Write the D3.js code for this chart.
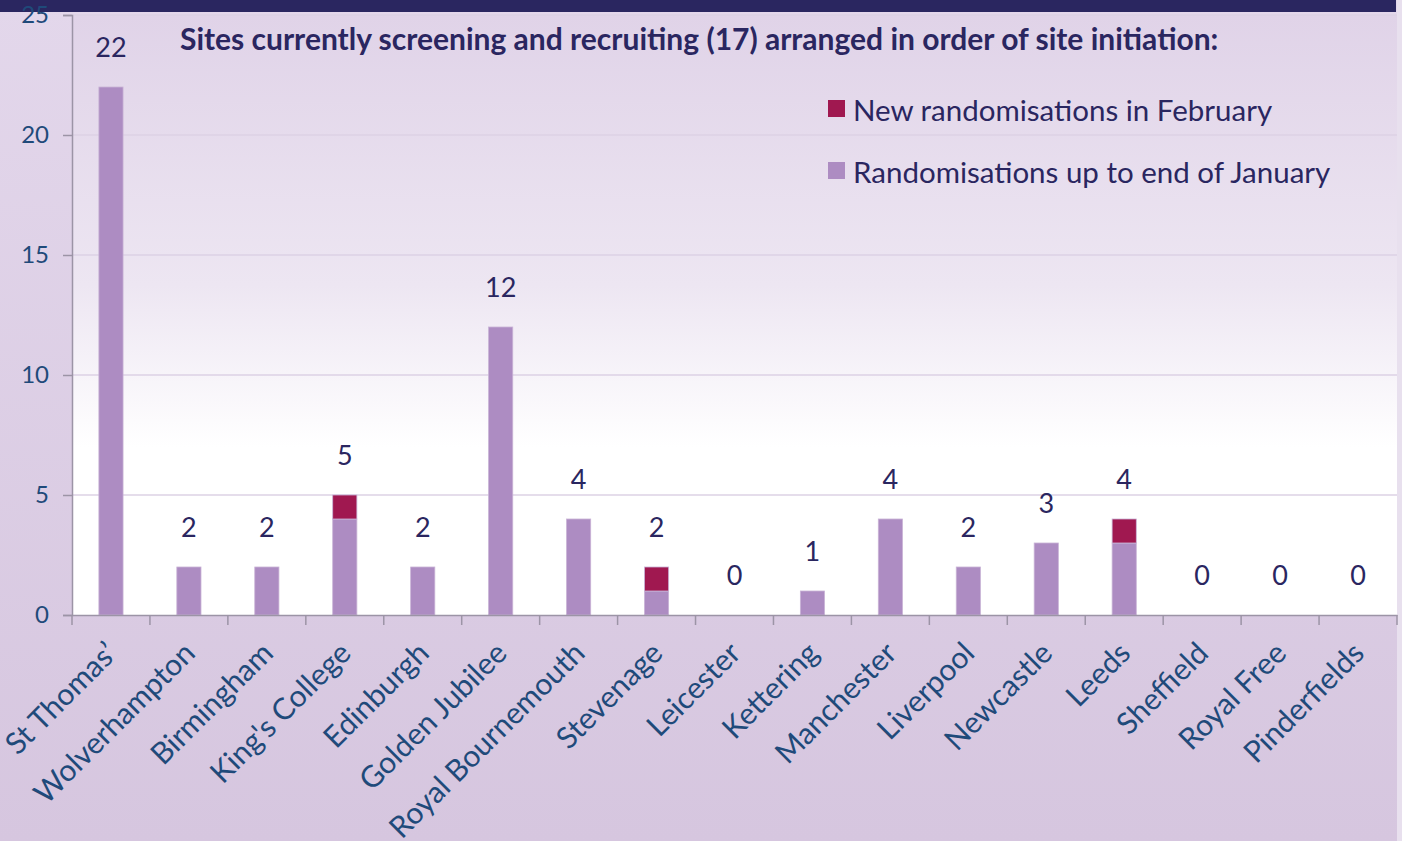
<!DOCTYPE html>
<html>
<head>
<meta charset="utf-8">
<script src="https://cdn.jsdelivr.net/npm/d3@7"></script>
<style>
  html, body { margin: 0; padding: 0; }
  body { width: 1402px; height: 841px; overflow: hidden; }
  svg { display: block; font-family: Lato, "Open Sans", sans-serif; }
</style>
</head>
<body>
<div id="chart"></div>
<script>
// data
const sites = ["St Thomas’", "Wolverhampton", "Birmingham", "King's College", "Edinburgh",
  "Golden Jubilee", "Royal Bournemouth", "Stevenage", "Leicester", "Kettering",
  "Manchester", "Liverpool", "Newcastle", "Leeds", "Sheffield", "Royal Free", "Pinderfields"];
const janTotals = [22, 2, 2, 4, 2, 12, 4, 1, 0, 1, 4, 2, 3, 3, 0, 0, 0];
const febNew    = [0, 0, 0, 1, 0, 0, 0, 1, 0, 0, 0, 0, 0, 1, 0, 0, 0];
const yTicks = [0, 5, 10, 15, 20, 25];
const seriesNames = ["New randomisations in February", "Randomisations up to end of January"];
const titleText = "Sites currently screening and recruiting (17) arranged in order of site initiation:";

const width = 1402;
const height = 841;
const margin = {top: 15, left: 72, right: 5, bottom: 226};
const colJan = "#ad8cc2";
const colFeb = "#a01850";
const navy = "#2a2660";
const axisBlue = "#1f4a7a";

const svg = d3.select("#chart")
  .append("svg")
    .attr("width", width)
    .attr("height", height);

const defs = svg.append("defs");
const bgGrad = defs.append("linearGradient").attr("id", "bg")
  .attr("x1", 0).attr("y1", 0).attr("x2", 0).attr("y2", 1);
bgGrad.append("stop").attr("offset", "0%").attr("stop-color", "#e3d7eb");
bgGrad.append("stop").attr("offset", "100%").attr("stop-color", "#d6c6df");

const plotGrad = defs.append("linearGradient").attr("id", "plotbg")
  .attr("x1", 0).attr("y1", 0).attr("x2", 0).attr("y2", 1);
plotGrad.append("stop").attr("offset", "0%").attr("stop-color", "#e0d3e8");
plotGrad.append("stop").attr("offset", "45%").attr("stop-color", "#ede6f2");
plotGrad.append("stop").attr("offset", "72%").attr("stop-color", "#ffffff");
plotGrad.append("stop").attr("offset", "100%").attr("stop-color", "#ffffff");

// page background
svg.append("rect")
  .attr("width", width).attr("height", height)
  .attr("fill", "url(#bg)");
svg.append("rect")
  .attr("x", width - margin.right).attr("y", 0)
  .attr("width", margin.right).attr("height", height)
  .attr("fill", "#e8e0ee");

// top banner (cut off)
svg.append("rect")
  .attr("x", 0).attr("y", 0)
  .attr("width", width - 6).attr("height", 12)
  .attr("fill", navy);

const x = d3.scaleBand()
  .domain(sites)
  .range([margin.left, width - margin.right])
  .paddingInner(0.69)
  .paddingOuter(0.345);

const y = d3.scaleLinear()
  .domain([0, 25])
  .range([height - margin.bottom, margin.top]);

// plot area
svg.append("rect")
  .attr("x", margin.left).attr("y", y(25))
  .attr("width", width - margin.right - margin.left)
  .attr("height", y(0) - y(25))
  .attr("fill", "url(#plotbg)");

// gridlines
svg.append("g")
  .selectAll("line")
  .data(yTicks.filter(d => d > 0))
  .join("line")
    .attr("x1", margin.left).attr("x2", width - margin.right)
    .attr("y1", d => y(d)).attr("y2", d => y(d))
    .attr("stroke", "#dcd2e5")
    .attr("stroke-width", 1.5);

// stacked bars
const stackData = sites.map((s, i) => ({site: s, jan: janTotals[i], feb: febNew[i]}));
const stack = d3.stack().keys(["jan", "feb"])(stackData);
const colors = {jan: colJan, feb: colFeb};

svg.append("g")
  .selectAll("g")
  .data(stack)
  .join("g")
    .attr("fill", d => colors[d.key])
  .selectAll("rect")
  .data(d => d.filter(p => p[1] > p[0]))
  .join("rect")
    .attr("x", d => x(d.data.site))
    .attr("y", d => y(d[1]))
    .attr("width", x.bandwidth())
    .attr("height", d => y(d[0]) - y(d[1]))
    .attr("stroke", "#c9b3d6")
    .attr("stroke-width", 0.8);

// total labels
svg.append("g")
  .selectAll("text")
  .data(stackData)
  .join("text")
    .attr("x", d => x(d.site) + x.bandwidth() / 2)
    .attr("y", d => y(d.jan + d.feb) - 30)
    .attr("text-anchor", "middle")
    .attr("fill", navy)
    .style("font-size", "27px")
    .text(d => d.jan + d.feb);

// y axis
const yAxis = svg.append("g")
  .attr("transform", `translate(${margin.left},0)`)
  .call(d3.axisLeft(y).tickValues(yTicks).tickSize(9).tickPadding(14));
yAxis.select(".domain").attr("stroke", "#9c94a6").attr("stroke-width", 1.5);
yAxis.selectAll(".tick line").attr("stroke", "#9c94a6").attr("stroke-width", 1.5);
yAxis.selectAll(".tick text")
  .attr("fill", axisBlue)
  .style("font-size", "24px")
  .style("font-family", "Lato, sans-serif");

// x axis
const xAxis = svg.append("g")
  .attr("transform", `translate(0,${y(0)})`)
  .call(d3.axisBottom(x).tickSize(0).tickPadding(0));
xAxis.select(".domain").attr("stroke", "#9c94a6").attr("stroke-width", 1.5);
xAxis.selectAll(".tick text")
  .attr("fill", axisBlue)
  .style("font-size", "30px")
  .style("font-family", "Lato, sans-serif")
  .attr("text-anchor", "end")
  .attr("dy", null)
  .attr("transform", "translate(8,40) rotate(-45)");

// category boundary ticks
svg.append("g")
  .selectAll("line")
  .data(d3.range(sites.length + 1))
  .join("line")
    .attr("x1", i => margin.left + i * x.step())
    .attr("x2", i => margin.left + i * x.step())
    .attr("y1", y(0)).attr("y2", y(0) + 10)
    .attr("stroke", "#9c94a6")
    .attr("stroke-width", 1.5);

// title
svg.append("text")
  .attr("x", 180).attr("y", 50)
  .attr("fill", navy)
  .style("font-size", "30px")
  .style("font-weight", "bold")
  .text(titleText);

// legend
const legend = svg.append("g").attr("transform", "translate(828,100)");
const legendColors = [colFeb, colJan];
seriesNames.forEach(function(name, i) {
  const g = legend.append("g").attr("transform", `translate(0,${i * 62})`);
  g.append("rect")
    .attr("width", 17).attr("height", 17)
    .attr("fill", legendColors[i]);
  g.append("text")
    .attr("x", 25).attr("y", 21)
    .attr("fill", navy)
    .style("font-size", "29.5px")
    .text(name);
});
</script>
</body>
</html>
